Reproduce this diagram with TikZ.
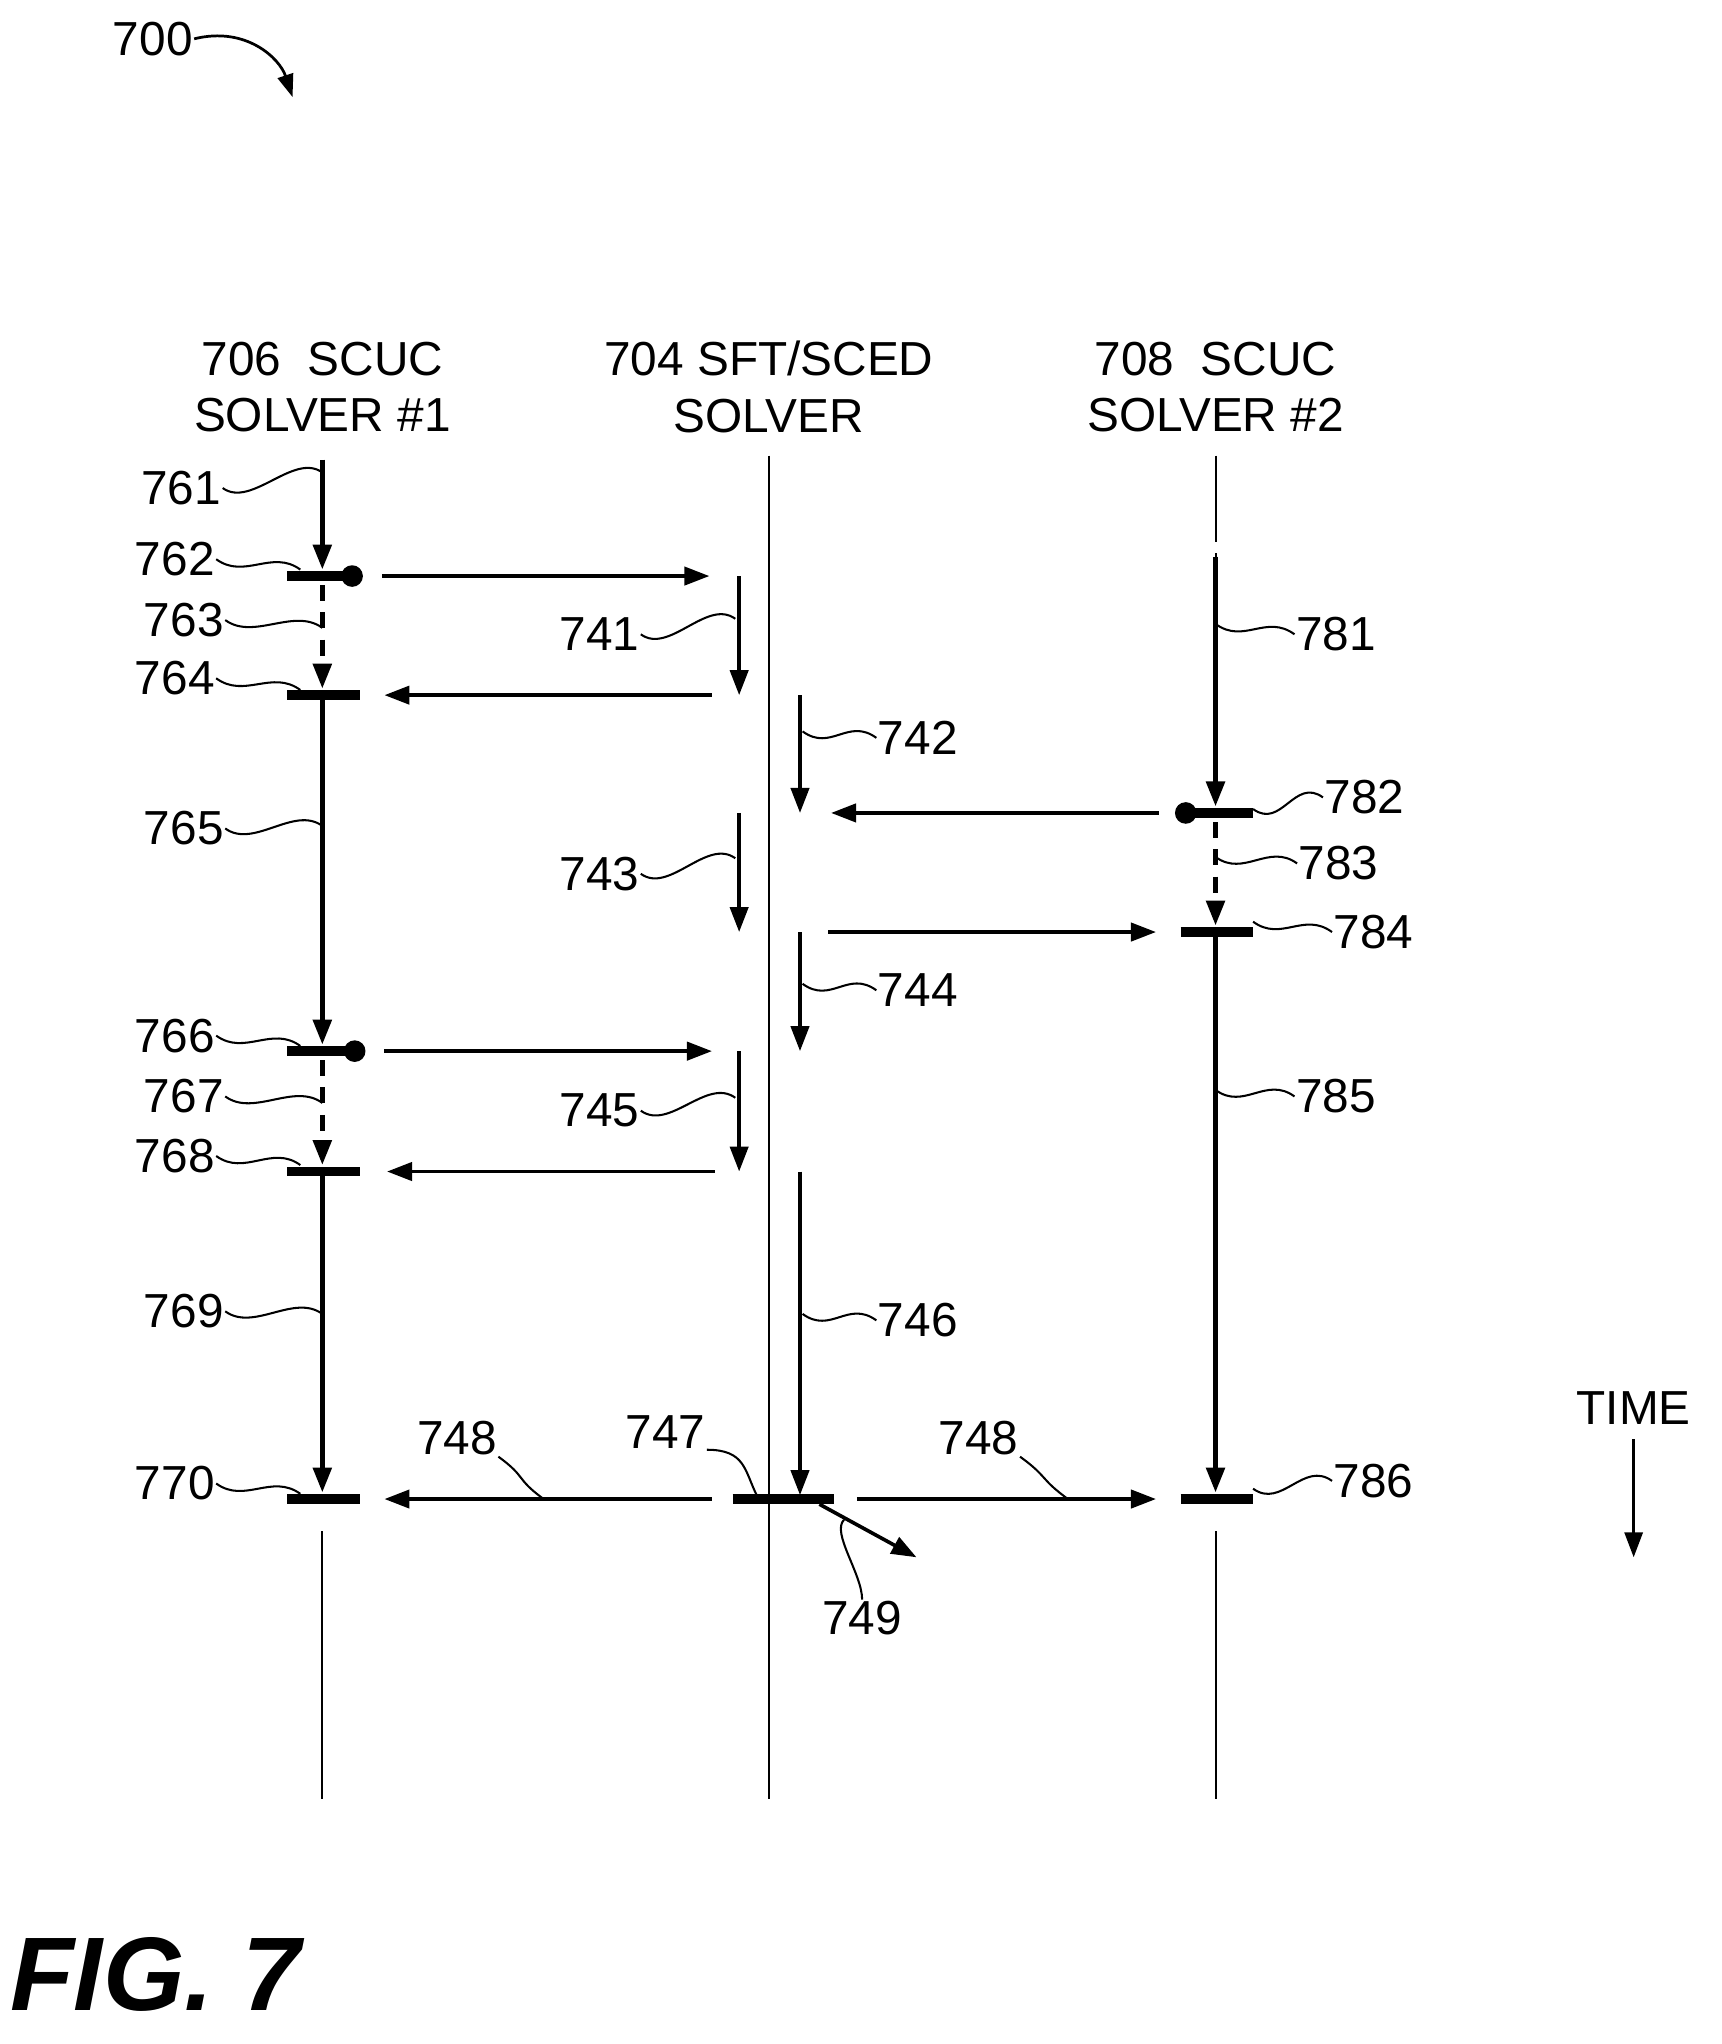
\documentclass[tikz,border=0pt]{standalone}
\usepackage{fontspec}
\setmainfont{Liberation Sans}
\usetikzlibrary{arrows.meta}
\tikzset{
  life/.style={line width=0.9pt},
  run/.style={line width=2.2pt,-{Triangle[length=11pt,width=8pt]}},
  wait/.style={run,dash pattern=on 7pt off 5pt},
  msg/.style={line width=1.6pt,-{Triangle[length=11pt,width=8pt]}},
  bar/.style={line width=4.2pt},
  dot/.style={circle,fill,inner sep=0pt,minimum size=9.5pt},
  num/.style={font=\fontsize{21}{25}\selectfont,inner sep=0.5pt},
  lead/.style={line width=0.9pt}
}
\newcommand{\wig}[2]{\draw[lead] (#1) .. controls +(22,16) and +(-22,-16) .. (#2);}
\begin{document}
\begin{tikzpicture}[x=0.02cm,y=-0.02cm]
\useasboundingbox (0,0) rectangle (1330,1579);
% headers
\node[num,align=center] (h1) at (249,299) {706\ \ SCUC\\SOLVER \#1};
\node[num,align=center] (h2) at (594,299) {704 SFT/SCED\\SOLVER};
\node[num,align=center] (h3) at (939,299) {708\ \ SCUC\\SOLVER \#2};
% lifelines
\draw[life] (594,352) -- (594,1390);
\draw[life] (249,1183) -- (249,1390);
\draw[life] (939,1183) -- (939,1390);
\draw[life,dash pattern=on 38pt off 5pt on 4pt off 4pt] (939,352) -- (939,430);
% solver 1
\draw[run] (249,355) -- (249,440);
\draw[wait] (249,452) -- (249,532);
\draw[run] (249,540) -- (249,807);
\draw[wait] (249,819) -- (249,900);
\draw[run] (249,908) -- (249,1153);
\foreach \y/\n in {445/a,537/b,812/c,905/d,1158/e}
  \draw[bar] (222,\y) coordinate (l\n) -- (278,\y);
\node[dot] (d1) at (272,445) {};
\node[dot] (d2) at (274,812) {};
% solver 2
\draw[run] (939,430) -- (939,623);
\draw[wait] (939,635) -- (939,715);
\draw[run] (939,723) -- (939,1153);
\foreach \y/\n in {628/a,720/b,1158/c}
  \draw[bar] (912,\y) coordinate (r\n) -- (968,\y);
\node[dot] (d3) at (916,628) {};
% middle
\draw[bar] (566,1158) coordinate (m) -- (644,1158);
\foreach \x/\a/\b in {571/445/537,618/537/628,571/628/720,618/720/812,571/812/905,618/905/1155}
  \draw[msg] (\x,\a) -- (\x,\b);
% messages
\draw[msg] (295,445) -- (548,445);
\draw[msg] (550,537) -- (297,537);
\draw[msg] (895,628) -- (642,628);
\draw[msg] (640,720) -- (893,720);
\draw[msg] (297,812) -- (550,812);
\draw[msg] (552,905) -- (299,905);
\draw[msg] (550,1158) -- (297,1158);
\draw[msg] (662,1158) -- (893,1158);
\draw[msg] (633,1162) -- (708,1203);
% labels
\foreach \t/\x/\y/\ex/\ey in {761/140/377/249/365,762/135/432/232/440,763/142/479/249/485,
  764/135/524/232/533,765/142/640/249/638,766/135/800/232/808,767/142/847/249/852,
  768/135/893/232/900,769/142/1013/249/1015,770/135/1146/232/1154,
  741/463/490/568/478,743/463/675/568/663,745/463/858/568/848}
{
  \node[num,anchor=center] (n\t) at (\x,\y) {\t};
  \coordinate (c\t) at (\ex,\ey);
  \wig{n\t.east}{c\t}
}
\foreach \t/\x/\y/\sx/\sy in {742/709/570/620/565,744/709/765/620/760,746/709/1020/620/1015,
  781/1032/490/939/482,782/1054/616/968/625,783/1034/667/939/662,784/1061/720/968/712,
  785/1032/847/939/842,786/1061/1144/968/1150}
{
  \node[num] (n\t) at (\x,\y) {\t};
  \coordinate (c\t) at (\sx,\sy);
  \wig{c\t}{n\t.west}
}
\node[num] (n747) at (514,1106) {747};
\coordinate (c747) at (585,1156);
\draw[lead] (n747.south east) .. controls +(30,0) and +(-10,-20) .. (c747);
\node[num] (n748a) at (353,1111) {748};
\coordinate (c748a) at (420,1158);
\wig{n748a.south east}{c748a}
\node[num] (n748b) at (756,1111) {748};
\coordinate (c748b) at (825,1158);
\wig{n748b.south east}{c748b}
\node[num] (n749) at (666,1250) {749};
\coordinate (c749) at (652,1174);
\draw[lead] (n749.north) .. controls +(0,-20) and +(-10,10) .. (c749);
% time
\node[num] (time) at (1262,1088) {TIME};
\draw[line width=1.2pt,-{Triangle[length=11pt,width=8pt]}] (1262,1112) -- (1262,1203);
% figure
\node[num] (n700) at (118,30) {700};
\coordinate (c700) at (226,75);
\draw[line width=1.2pt,-{Triangle[length=10pt,width=7pt]}] (n700.east) .. controls +(40,-10) and +(-10,-30) .. (c700);
\node[font=\fontsize{46}{50}\selectfont\bfseries\itshape] (fig) at (120,1525) {FIG. 7};
\end{tikzpicture}
\end{document}
